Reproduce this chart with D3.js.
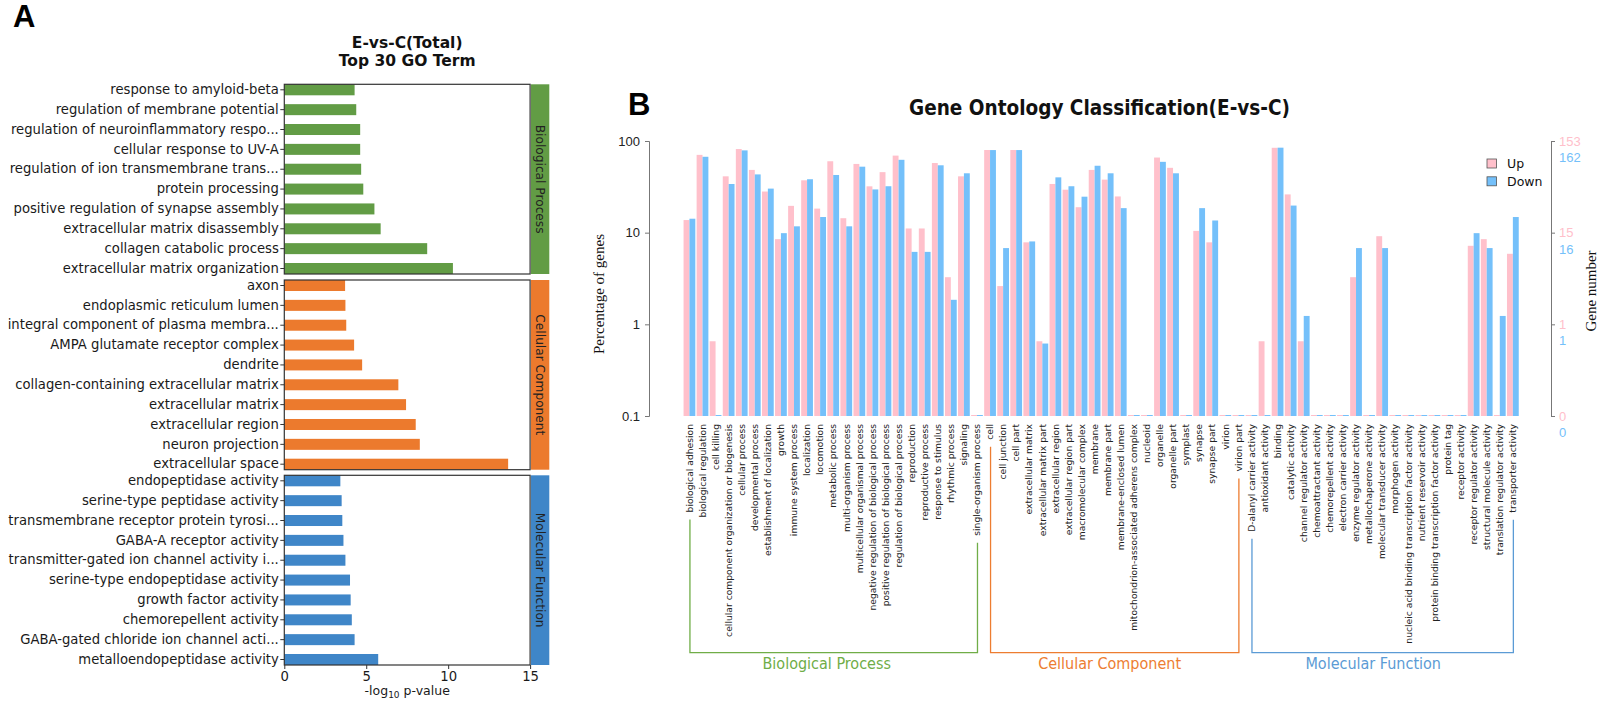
<!DOCTYPE html>
<html><head><meta charset="utf-8">
<script src="https://cdn.jsdelivr.net/npm/d3@7"></script>
<style>body{margin:0;background:#fff}svg{display:block}</style>
</head><body>
<svg id="chart" width="1612" height="702"></svg>
<script>
// ================= DATA =================
// Panel A: Top 30 GO terms, -log10 p-value
const titleA = ["E-vs-C(Total)", "Top 30 GO Term"];
const bpTerms = ["response to amyloid-beta","regulation of membrane potential","regulation of neuroinflammatory respo...","cellular response to UV-A","regulation of ion transmembrane trans...","protein processing","positive regulation of synapse assembly","extracellular matrix disassembly","collagen catabolic process","extracellular matrix organization"];
const bpValues = [4.29,4.39,4.63,4.63,4.69,4.82,5.50,5.88,8.72,10.29];
const ccTerms = ["axon","endoplasmic reticulum lumen","integral component of plasma membra...","AMPA glutamate receptor complex","dendrite","collagen-containing extracellular matrix","extracellular matrix","extracellular region","neuron projection","extracellular space"];
const ccValues = [3.71,3.73,3.78,4.26,4.75,6.96,7.43,8.02,8.27,13.66];
const mfTerms = ["endopeptidase activity","serine-type peptidase activity","transmembrane receptor protein tyrosi...","GABA-A receptor activity","transmitter-gated ion channel activity i...","serine-type endopeptidase activity","growth factor activity","chemorepellent activity","GABA-gated chloride ion channel acti...","metalloendopeptidase activity"];
const mfValues = [3.42,3.50,3.54,3.61,3.73,4.01,4.05,4.12,4.29,5.73];
const ontologyNames = ["Biological Process","Cellular Component","Molecular Function"];
const xTicksA = [0,5,10,15];

// Panel B: GO classification, gene counts
const titleB = "Gene Ontology Classification(E-vs-C)";
const bpCats = ["biological adhesion","biological regulation","cell killing","cellular component organization or biogenesis","cellular process","developmental process","establishment of localization","growth","immune system process","localization","locomotion","metabolic process","multi-organism process","multicellular organismal process","negative regulation of biological process","positive regulation of biological process","regulation of biological process","reproduction","reproductive process","response to stimulus","rhythmic process","signaling","single-organism process"];
const ccCats = ["cell","cell junction","cell part","extracellular matrix","extracellular matrix part","extracellular region","extracellular region part","macromolecular complex","membrane","membrane part","membrane-enclosed lumen","mitochondrion-associated adherens complex","nucleoid","organelle","organelle part","symplast","synapse","synapse part","virion","virion part"];
const mfCats = ["D-alanyl carrier activity","antioxidant activity","binding","catalytic activity","channel regulator activity","chemoattractant activity","chemorepellent activity","electron carrier activity","enzyme regulator activity","metallochaperone activity","molecular transducer activity","morphogen activity","nucleic acid binding transcription factor activity","nutrient reservoir activity","protein binding transcription factor activity","protein tag","receptor activity","receptor regulator activity","structural molecule activity","translation regulator activity","transporter activity"];
const upCounts = [21,108,1,63,125,74,43,13,30,57,28,92,22,86,49,70,106,17,17,88,5,63,0,
  122,4,122,12,1,52,45,29,74,58,38,0,0,101,78,0,16,12,0,0,
  0,1,129,40,1,0,0,0,5,0,14,0,0,0,0,0,0,11,13,0,9];
const downCounts = [23,109,0,55,128,70,49,16,19,62,24,69,19,85,48,52,101,10,10,88,3,72,0,
  129,11,129,13,1,65,52,40,87,72,30,0,0,96,72,0,30,22,0,0,
  0,0,137,32,2,0,0,0,11,0,11,0,0,0,0,0,0,16,11,2,24];
const upTotal = 153, downTotal = 162;
const pctTicks = [0.1,1,10,100];
const pctTickLabels = ["0.1","1","10","100"];
const upTickLabels = ["0","1","15","153"];
const downTickLabels = ["0","1","16","162"];
const seriesNames = ["Up","Down"];

// ================= STYLE =================
const colA = ["#629C45","#EC7A2D","#3F86C8"];
const colB = ["#70AD47","#ED7D31","#5B9BD5"];
const upColor = "#FFC0CB", downColor = "#74C0FA";
const SANS = "DejaVu Sans, sans-serif";
const SERIF = "Liberation Serif, Times New Roman, serif";
const COND = "DejaVu Sans Condensed, DejaVu Sans, sans-serif";

const svg = d3.select("#chart");
svg.append("rect").attr("width",1612).attr("height",702).attr("fill","#fff");

// panel letters
svg.append("text").attr("x",13).attr("y",27).text("A")
  .attr("font-family","Liberation Sans, Arial, sans-serif").attr("font-weight","bold").attr("font-size",31).attr("fill","#000");
svg.append("text").attr("x",628).attr("y",115).text("B")
  .attr("font-family","Liberation Sans, Arial, sans-serif").attr("font-weight","bold").attr("font-size",31).attr("fill","#000");

// ================= PANEL A =================
const xA = d3.scaleLinear().domain([0,15]).range([284.3,530.1]);
const boxTops = [84.3,280,475.3], boxH = 189.7;
const groupsA = [[bpTerms,bpValues],[ccTerms,ccValues],[mfTerms,mfValues]];

titleA.forEach((t,i)=>{
  svg.append("text").attr("x",(xA(0)+xA(15))/2).attr("y",48.3+i*17.4).attr("text-anchor","middle")
    .attr("font-family",SANS).attr("font-weight","bold").attr("font-size",15.5).attr("fill","#111").text(t);
});

groupsA.forEach(([terms,vals],i)=>{
  const top = boxTops[i];
  const y = d3.scaleBand().domain(terms).range([top,top+boxH]).paddingInner(0.446).paddingOuter(0);
  const g = svg.append("g");
  g.selectAll("rect.bar").data(terms).join("rect").attr("class","bar")
    .attr("x",xA(0)).attr("y",d=>y(d))
    .attr("width",(d,j)=>xA(vals[j])-xA(0)).attr("height",y.bandwidth())
    .attr("fill",colA[i]);
  const axg = g.append("g").attr("transform",`translate(${xA(0)},0)`)
    .call(d3.axisLeft(y).tickSize(4).tickPadding(1.5));
  axg.select(".domain").remove();
  axg.attr("font-family",SANS).attr("font-size",13.2);
  axg.selectAll("text").attr("fill","#1a1a1a");
  axg.selectAll("line").attr("stroke","#333");
  g.append("rect").attr("x",xA(0)).attr("y",top).attr("width",xA(15)-xA(0)).attr("height",boxH)
    .attr("fill","none").attr("stroke","#333").attr("stroke-width",1.2);
  // side strip
  g.append("rect").attr("x",531).attr("y",top).attr("width",18.3).attr("height",boxH).attr("fill",colA[i]);
  g.append("text").attr("transform",`translate(540,${top+boxH/2}) rotate(90)`)
    .attr("text-anchor","middle").attr("dy","0.35em")
    .attr("font-family",SANS).attr("font-size",12.2).attr("fill","#222").text(ontologyNames[i]);
});
const xAxisA = svg.append("g").attr("transform",`translate(0,${boxTops[2]+boxH})`)
  .call(d3.axisBottom(xA).tickValues(xTicksA).tickSize(4).tickPadding(3));
xAxisA.select(".domain").remove();
xAxisA.attr("font-family",SANS).attr("font-size",13.2);
xAxisA.selectAll("text").attr("fill","#1a1a1a");
xAxisA.selectAll("line").attr("stroke","#333");
const xl = svg.append("text").attr("x",(xA(0)+xA(15))/2).attr("y",695).attr("text-anchor","middle")
  .attr("font-family",SANS).attr("font-size",12.5).attr("fill","#1a1a1a");
xl.append("tspan").text("-log");
xl.append("tspan").attr("dy",3).attr("font-size",9).text("10");
xl.append("tspan").attr("dy",-3).text(" p-value");

// ================= PANEL B =================
const cats = bpCats.concat(ccCats, mfCats);
const catGroups = [bpCats, ccCats, mfCats];
const xB = d3.scaleBand().domain(cats).range([682.9,1519.4]).paddingInner(0.1).paddingOuter(0.05);
const sub = d3.scaleBand().domain(seriesNames).range([0,xB.bandwidth()]);
const yB = d3.scaleLog().domain([0.1,100]).range([416,141]);
const base = yB(0.1);

const tB = svg.append("text").attr("x",1099.5).attr("y",115).attr("text-anchor","middle")
  .attr("font-family",COND).attr("font-stretch","condensed").attr("font-weight","bold").attr("font-size",21).attr("fill","#111").text(titleB);
if (tB.node().getComputedTextLength() > 384) tB.attr("textLength",381).attr("lengthAdjust","spacingAndGlyphs");

const barData = [];
cats.forEach((c,i)=>{
  barData.push({cat:c, s:"Up", pct: upCounts[i]/upTotal*100, color: upColor});
  barData.push({cat:c, s:"Down", pct: downCounts[i]/downTotal*100, color: downColor});
});
svg.append("g").selectAll("rect").data(barData).join("rect")
  .attr("x",d=>xB(d.cat)+sub(d.s))
  .attr("width",sub.bandwidth())
  .attr("y",d=> d.pct>0 ? yB(d.pct) : base-1)
  .attr("height",d=> d.pct>0 ? base-yB(d.pct) : 1)
  .attr("fill",d=>d.color);

// left axis
const axL = svg.append("g").attr("transform","translate(649,0)")
  .call(d3.axisLeft(yB).tickValues(pctTicks).tickFormat((d,i)=>pctTickLabels[i]).tickSize(4).tickPadding(5));
axL.attr("font-family","Liberation Sans, Arial, sans-serif").attr("font-size",13);
axL.select(".domain").attr("stroke","#777");
axL.selectAll("line").attr("stroke","#777");
axL.selectAll("text").attr("fill","#222");

// right axis
const axR = svg.append("g").attr("transform","translate(1551,0)")
  .call(d3.axisRight(yB).tickValues(pctTicks).tickFormat((d,i)=>upTickLabels[i]).tickSize(4).tickPadding(4));
axR.attr("font-family","Liberation Sans, Arial, sans-serif").attr("font-size",13);
axR.select(".domain").attr("stroke","#777");
axR.selectAll("line").attr("stroke","#777");
axR.selectAll("text").attr("fill",upColor);
axR.selectAll(".tick").append("text")
  .attr("x",8).attr("y",16.5).attr("dy","0.32em").attr("fill",downColor)
  .text((d,i)=>downTickLabels[i]);

svg.append("text").attr("transform","translate(599,294) rotate(-90)").attr("text-anchor","middle").attr("dy","0.35em")
  .attr("font-family",SERIF).attr("font-size",15).attr("fill","#111").text("Percentage of genes");
svg.append("text").attr("transform","translate(1591,291) rotate(-90)").attr("text-anchor","middle").attr("dy","0.35em")
  .attr("font-family",SERIF).attr("font-size",15).attr("fill","#111").text("Gene number");

// legend
seriesNames.forEach((s,i)=>{
  const yy = 159 + i*17.8;
  svg.append("rect").attr("x",1487).attr("y",yy).attr("width",9.5).attr("height",9)
    .attr("fill", i===0?upColor:downColor).attr("stroke","#555").attr("stroke-width",0.8);
  svg.append("text").attr("x",1507).attr("y",yy+4.5).attr("dy","0.35em")
    .attr("font-family",SANS).attr("font-size",12.5).attr("fill","#111").text(s);
});

// x labels
const labelTop = 424;
const labels = svg.append("g").selectAll("text").data(cats).join("text")
  .attr("transform",d=>`translate(${xB(d)+xB.bandwidth()/2},${labelTop}) rotate(-90)`)
  .attr("text-anchor","end").attr("dy","0.35em")
  .attr("font-family",SANS).attr("font-size",9.2).attr("fill","#222").text(d=>d);
const lenOf = {};
labels.each(function(d){ lenOf[d] = this.getComputedTextLength(); });

// brackets
const bracketY = 652.7;
const labelCenters = [826.7,1109.6,1373.2];
const labelWidths = [130,146.5,139];
catGroups.forEach((grp,i)=>{
  const first = grp[0], last = grp[grp.length-1];
  const x0 = xB(first)+xB.bandwidth()/2+0.5, x1 = xB(last)+xB.bandwidth()/2+0.5;
  const y0 = labelTop + lenOf[first] + 7, y1 = labelTop + lenOf[last] + 7;
  svg.append("path")
    .attr("d",`M${x0},${y0}V${bracketY}H${x1}V${y1}`)
    .attr("fill","none").attr("stroke",colB[i]).attr("stroke-width",1.3);
  const t = svg.append("text").attr("x",labelCenters[i]).attr("y",668.5).attr("text-anchor","middle")
    .attr("font-family",COND).attr("font-stretch","condensed").attr("font-size",16).attr("fill",colB[i]).text(ontologyNames[i]);
  if (Math.abs(t.node().getComputedTextLength()-labelWidths[i])>4) t.attr("textLength",labelWidths[i]).attr("lengthAdjust","spacingAndGlyphs");
});
</script>
</body></html>
